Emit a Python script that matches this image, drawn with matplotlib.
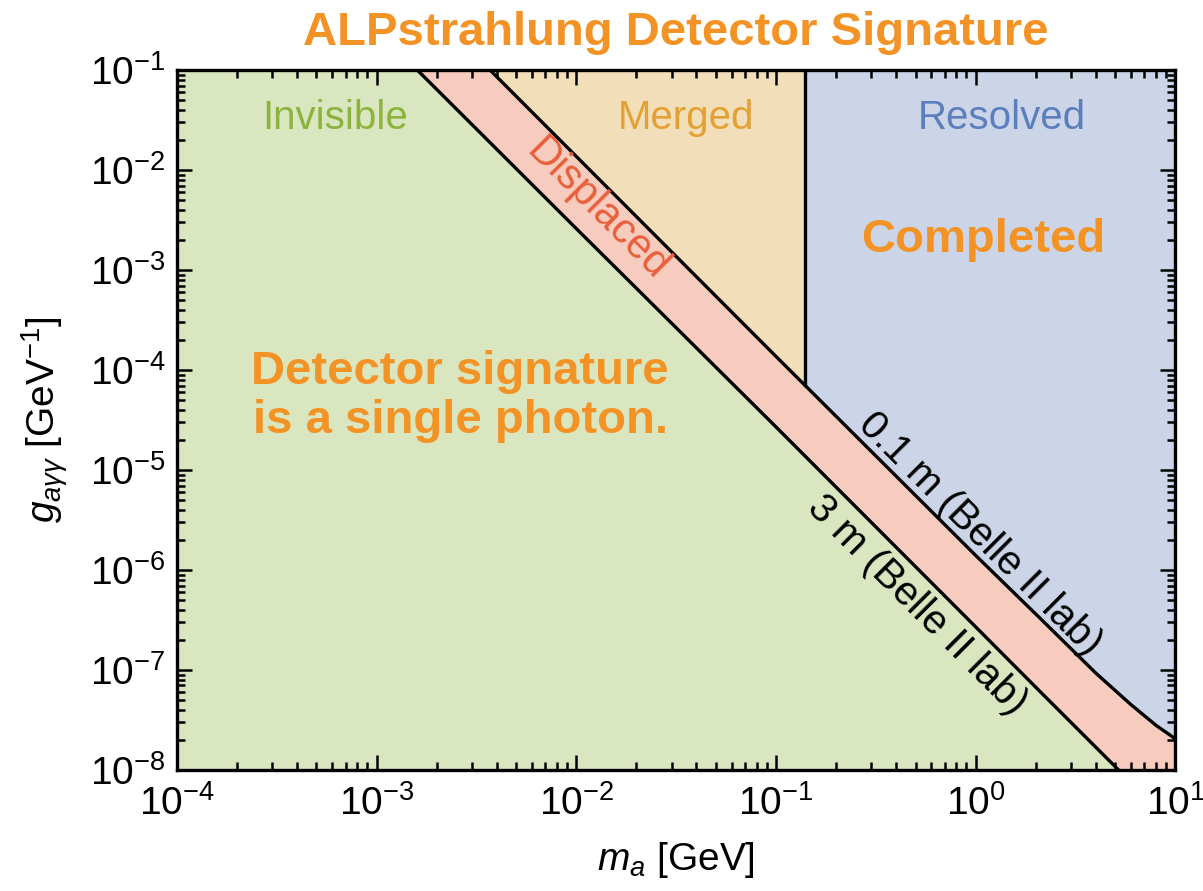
import numpy as np
import matplotlib
matplotlib.use("Agg")
import matplotlib.pyplot as plt

plt.rcParams['font.family'] = ['Liberation Sans', 'DejaVu Sans']
plt.rcParams['mathtext.fontset'] = 'custom'
plt.rcParams['mathtext.rm'] = 'Liberation Sans'
plt.rcParams['mathtext.it'] = 'Liberation Sans:italic'
plt.rcParams['mathtext.bf'] = 'Liberation Sans:bold'

# decay length contours in the (m_a, g_agg) plane
m_01 = [3.7e-3, 1e-2, 0.1, 1.0, 2.1, 4.0, 6.0, 8.0, 10.0]
g_01 = [1e-1, 1.37e-2, 1.37e-4, 1.4e-6, 3.3e-7, 9.3e-8, 4.5e-8, 2.8e-8, 2.05e-8]

m_3 = [1.6e-3, 1e-2, 0.1, 1.0, 2.1, 5.2]
g_3 = [1e-1, 2.6e-3, 2.7e-5, 2.7e-7, 6.1e-8, 1e-8]

m_merge = 0.14       # merged / resolved photon boundary

xlim = (1e-4, 10.0)
ylim = (1e-8, 1e-1)

c_invisible = '#d9e6bf'
c_displaced = '#f7ccbf'
c_merged = '#f2dfb9'
c_resolved = '#cbd5e7'
orange = '#f39325'

fig = plt.figure(figsize=(12.03, 8.91), dpi=100)
ax = fig.add_axes([0.147, 0.1358, 0.83, 0.7856])
ax.set_xscale('log')
ax.set_yscale('log')
ax.set_xlim(*xlim)
ax.set_ylim(*ylim)
ax.set_facecolor(c_invisible)

m_01 = np.array(m_01); g_01 = np.array(g_01)
m_3 = np.array(m_3); g_3 = np.array(g_3)

# where the boundary meets the 0.1 m contour
g_merge = 10 ** np.interp(np.log10(m_merge), np.log10(m_01), np.log10(g_01))

# displaced band between the two contours
px = np.concatenate([m_3, [xlim[1]], m_01[::-1]])
py = np.concatenate([g_3, [ylim[0]], g_01[::-1]])
ax.fill(px, py, color=c_displaced, lw=0, zorder=1)

# merged: above the 0.1 m contour, left of the mass boundary
left = m_01 < m_merge
ax.fill(np.concatenate([m_01[left], [m_merge, m_merge]]),
        np.concatenate([g_01[left], [g_merge, ylim[1]]]),
        color=c_merged, lw=0, zorder=1)

# resolved: above the 0.1 m contour, right of the mass boundary
right = m_01 > m_merge
ax.fill(np.concatenate([[m_merge, m_merge], m_01[right], [xlim[1]]]),
        np.concatenate([[ylim[1], g_merge], g_01[right], [ylim[1]]]),
        color=c_resolved, lw=0, zorder=1)

ax.plot(m_01, g_01, color='black', lw=2.4, zorder=3)
ax.plot(m_3, g_3, color='black', lw=2.4, zorder=3)
ax.plot([m_merge, m_merge], [g_merge, ylim[1]], color='black', lw=2.4, zorder=3)

# frame and ticks
for s in ax.spines.values():
    s.set_linewidth(2.4)
    s.set_zorder(4)
ax.tick_params(which='both', direction='in', top=True, right=True, width=1.8,
               labelsize=28, pad=8)
ax.tick_params(axis='x', which='major', pad=11)
ax.tick_params(which='major', length=11)
ax.tick_params(which='minor', length=6)
ax.set_xticks([10.0**k for k in range(-4, 2)])
ax.set_yticks([10.0**k for k in range(-8, 0)])

ax.set_xlabel(r'$m_a$ [GeV]', fontsize=28, labelpad=12)
ax.set_ylabel(r'$g_{a\gamma\gamma}$ [GeV$^{-1}$]', fontsize=28, labelpad=14)

ax.set_title('ALPstrahlung Detector Signature', fontsize=34, fontweight='bold',
             color=orange, pad=18)

# region labels
ax.text(6.2e-4, 3.3e-2, 'Invisible', fontsize=29, color='#8cb43c', ha='center', va='center')
ax.text(3.55e-2, 3.3e-2, 'Merged', fontsize=29, color='#e3a033', ha='center', va='center')
ax.text(1.36, 3.3e-2, 'Resolved', fontsize=29, color='#5b7fbd', ha='center', va='center')
ax.text(1.09, 2.0e-3, 'Completed', fontsize=34, fontweight='bold', color=orange,
        ha='center', va='center')
ax.text(2.62e-3, 5.4e-5, 'Detector signature\nis a single photon.', fontsize=34,
        fontweight='bold', color=orange, ha='center', va='center', linespacing=1.15)
ax.text(1.27e-2, 4.0e-3, 'Displaced', fontsize=30, color='#e8603a', rotation=-45,
        rotation_mode='anchor', ha='center', va='center')
ax.text(1.05, 2.3e-6, '0.1 m (Belle II lab)', fontsize=29, color='black', rotation=-45,
        rotation_mode='anchor', ha='center', va='center')
ax.text(0.51, 4.5e-7, '3 m (Belle II lab)', fontsize=29, color='black', rotation=-45,
        rotation_mode='anchor', ha='center', va='center')

fig.savefig('out.png', dpi=100)
